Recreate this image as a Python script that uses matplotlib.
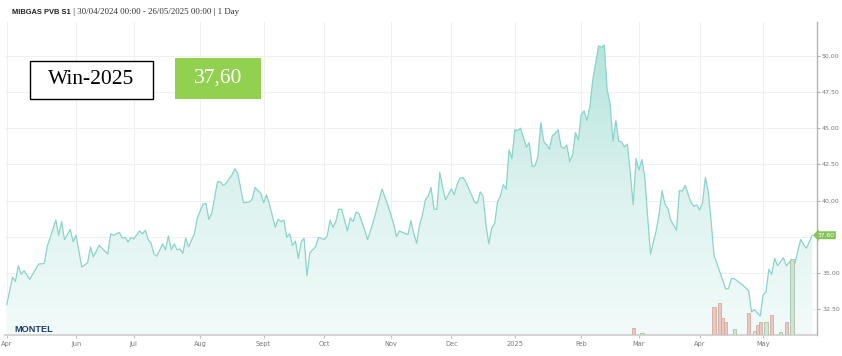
import numpy as np
import matplotlib
matplotlib.use("Agg")
import matplotlib.pyplot as plt
from matplotlib.colors import LinearSegmentedColormap
from matplotlib.transforms import blended_transform_factory

# ---------------- data ----------------
start_date = "2024-04-30"
# trading-day number (business days since 30/04/2024) and settlement price
trading_day = [0, 2, 3, 4, 5, 6, 8, 11, 13, 14, 17, 18, 19, 20, 22, 23, 24, 26, 28, 29,
               30, 32, 35, 36, 37, 39, 40, 41, 42, 43, 44, 46, 47, 48, 49, 50, 51, 52, 54, 55,
               56, 57, 58, 59, 60, 61, 62, 63, 65, 66, 68, 69, 70, 71, 73, 74, 75, 76, 78, 79,
               80, 82, 84, 85, 86, 88, 89, 90, 91, 93, 94, 95, 96, 97, 98, 99, 100, 101, 102, 103,
               104, 105, 107, 108, 110, 111, 112, 113, 114, 115, 116, 118, 119, 120, 121, 122, 124, 125, 127, 129,
               130, 132, 134, 135, 136, 137, 139, 140, 141, 142, 143, 144, 145, 146, 147, 148, 149, 150, 151, 152,
               154, 155, 156, 157, 158, 159, 161, 162, 163, 164, 165, 166, 167, 168, 169, 170, 171, 172, 173, 174,
               175, 176, 177, 178, 180, 181, 182, 183, 184, 185, 186, 187, 188, 189, 190, 191, 192, 193, 194, 195,
               196, 197, 198, 199, 200, 201, 202, 203, 205, 206, 207, 208, 209, 210, 211, 212, 213, 214, 215, 216,
               217, 218, 219, 220, 221, 222, 223, 225, 226, 227, 228, 229, 230, 232, 233, 234, 235, 237, 238, 239,
               240, 241, 242, 243, 244, 245, 246, 249, 250, 251, 252, 254, 255, 257, 258, 259, 261, 262, 263, 264,
               265, 266, 267, 268, 269, 270, 272, 273, 275, 276, 277, 279]
prices = [32.80, 34.70, 34.40, 35.50, 34.90, 35.15, 34.55, 35.60, 35.65, 36.80, 38.65, 37.60, 38.55, 37.30, 38.00, 37.15, 37.60, 35.40, 35.70, 36.80,
          36.10, 36.90, 36.30, 37.70, 37.60, 37.80, 37.40, 37.45, 37.15, 37.45, 37.35, 37.90, 37.70, 37.95, 37.30, 37.05, 36.30, 36.15, 37.00, 36.60,
          37.55, 36.60, 37.00, 36.60, 36.65, 36.35, 37.40, 36.80, 37.70, 38.80, 39.75, 39.80, 38.70, 39.10, 41.30, 41.30, 41.05, 41.20, 41.77, 42.20,
          41.90, 39.85, 39.90, 40.10, 40.90, 40.50, 39.85, 40.40, 39.75, 38.15, 38.70, 38.55, 38.65, 37.45, 37.70, 36.90, 37.20, 36.00, 37.15, 37.40,
          34.80, 36.40, 36.80, 37.45, 37.30, 37.55, 38.65, 38.15, 38.55, 39.40, 39.40, 37.90, 38.80, 38.55, 39.20, 39.10, 37.95, 37.30, 38.55, 40.05,
          40.80, 39.70, 38.40, 37.50, 37.90, 37.80, 37.65, 38.60, 37.70, 37.05, 38.30, 39.00, 40.05, 40.30, 40.90, 39.40, 39.40, 41.95, 40.90, 40.05,
          40.80, 40.40, 41.10, 41.55, 41.60, 41.30, 40.40, 39.90, 39.80, 40.60, 40.30, 38.30, 37.00, 38.10, 38.40, 39.90, 40.30, 41.10, 40.80, 43.50,
          42.90, 44.90, 44.85, 45.00, 43.70, 44.00, 42.35, 42.40, 43.05, 45.40, 44.10, 43.85, 43.55, 44.50, 44.65, 44.90, 43.75, 43.60, 43.85, 42.70,
          43.15, 44.70, 44.20, 45.95, 46.20, 45.55, 46.50, 48.35, 50.70, 50.60, 50.75, 47.65, 46.70, 44.10, 45.55, 44.10, 44.05, 43.70, 43.90, 41.90,
          39.70, 42.90, 42.10, 42.85, 41.65, 38.90, 36.30, 37.95, 39.10, 40.70, 39.75, 39.45, 38.65, 37.95, 40.70, 40.65, 41.05, 39.90, 39.60, 39.70,
          39.35, 39.80, 41.60, 40.60, 38.55, 36.20, 35.65, 33.90, 33.90, 34.60, 34.60, 34.30, 34.15, 33.75, 32.30, 32.45, 32.00, 33.45, 33.70, 35.25,
          34.90, 36.00, 35.50, 35.75, 36.05, 35.50, 35.90, 35.65, 37.30, 36.95, 36.70, 37.60]

# traded volumes (arbitrary units) and side colour key
volume_day = [217, 220, 245, 247, 248, 249, 252, 257, 259, 260, 261, 263, 265, 268, 270, 272]
volumes = [7, 2, 28, 32, 17, 13, 6, 22, 4, 10, 13, 13, 20, 3, 13, 76]
volume_kind = ["s", "b", "s", "s", "s", "s", "b", "s", "b", "s", "s", "b", "s", "b", "s", "b"]

month_starts = ["2024-04-30", "2024-06-01", "2024-07-01", "2024-08-01", "2024-09-01", "2024-10-01",
                "2024-11-01", "2024-12-01", "2025-01-01", "2025-02-01", "2025-03-01", "2025-04-01",
                "2025-05-01"]
month_labels = ["Apr", "Jun", "Jul", "Aug", "Sept", "Oct", "Nov", "Dec", "2025", "Feb", "Mar", "Apr", "May"]
y_ticks = [32.5, 35.0, 37.5, 40.0, 42.5, 45.0, 47.5, 50.0]
last_price = 37.60
title_bold = "MIBGAS PVB S1"
title_rest = " | 30/04/2024 00:00 - 26/05/2025 00:00 | 1 Day"
contract = "Win-2025"
contract_price = "37,60"

# ---------------- figure ----------------
W, H = 842, 356
fig = plt.figure(figsize=(W / 100, H / 100), dpi=100)
fig.patch.set_facecolor("white")

ax_rect = [5.3 / W, 21 / H, 811.2 / W, 313 / H]
ax = fig.add_axes(ax_rect, zorder=1)
ax_vol = fig.add_axes(ax_rect, zorder=2, sharex=ax)
ax_vol.patch.set_alpha(0)

x = np.array(trading_day, dtype=float)
y = np.array(prices)
ymin, ymax = 30.70, 52.35
xmin, xmax = -0.5, 280.5

line_col = "#8ad4ca"
# gradient fill below the line
poly = ax.fill_between(x, y, ymin, color="none", lw=0)
cmap = LinearSegmentedColormap.from_list("g", ["#f2fbfa", "#dcf2ef", "#b3e3dc"])
grad = np.linspace(0, 1, 256).reshape(-1, 1)
im = ax.imshow(grad, cmap=cmap, extent=[xmin, xmax, ymin, 51.0], origin="lower",
               aspect="auto", zorder=1, interpolation="bilinear")
im.set_clip_path(poly.get_paths()[0], ax.transData)
ax.plot(x, y, color=line_col, lw=0.9, zorder=3)

# month ticks at first trading day of each month
tick_pos = np.busday_count(start_date, np.array(month_starts, dtype="datetime64[D]"))
ax.set_xticks(tick_pos)
ax.set_xticklabels(month_labels)
ax.set_yticks(y_ticks)
ax.set_yticklabels(["" if abs(v - 37.5) < 1e-6 else f"{v:.2f}" for v in y_ticks])
ax.yaxis.tick_right()
ax.set_xlim(xmin, xmax)
ax.set_ylim(ymin, ymax)
ax.grid(True, color="#f0f0f0", lw=0.8, zorder=0)
ax.set_axisbelow(True)
for s in ["left", "top"]:
    ax.spines[s].set_visible(False)
ax.spines["right"].set_color("#b5b5b5")
ax.spines["right"].set_linewidth(1.0)
ax.spines["bottom"].set_color("#d5d5d5")
ax.spines["bottom"].set_linewidth(1.5)
ax.tick_params(axis="x", length=2, color="#c0c0c0", labelsize=4.8, labelcolor="#7a7a7a", pad=2.5)
ax.tick_params(axis="y", length=2, color="#b0b0b0", labelsize=4.5, labelcolor="#7a7a7a", pad=2)

# volume bars
colors = {"s": ("#e6c4ba", "#d3a59a"), "b": ("#cfe0d1", "#9fbea2")}
ax_vol.bar(volume_day, volumes, width=1.15,
           color=[colors[k][0] for k in volume_kind],
           edgecolor=[colors[k][1] for k in volume_kind], linewidth=0.6, alpha=0.9)
ax_vol.set_ylim(0, 313)
ax_vol.axis("off")

# last-price tag
trans = blended_transform_factory(ax.transAxes, ax.transData)
ax.text(1.0115, last_price, f"{last_price:.2f}", transform=trans, ha="center", va="center",
        fontsize=4.3, color="white", zorder=10, clip_on=False,
        bbox=dict(boxstyle="larrow,pad=0.25", fc="#86c25a", ec="none"))

# title
t1 = fig.text(12.5 / W, 1 - 12 / H, title_bold, fontsize=5.4, fontweight="bold",
              family="Liberation Sans", color="#222222", va="center", ha="left")
fig.canvas.draw()
bb = t1.get_window_extent()
fig.text(bb.x1 / W, 1 - 12 / H, title_rest, fontsize=6.4, family="Liberation Serif",
         color="#333333", va="center", ha="left")

# contract boxes
fig.patches.append(plt.Rectangle((29.5 / W, 1 - 98.7 / H), 123 / W, 37.7 / H,
                                 transform=fig.transFigure, fc="white", ec="black", lw=1.0))
fig.text(91 / W, 1 - 80 / H, contract, fontsize=15.5, family="Liberation Serif",
         color="black", ha="center", va="center")
fig.patches.append(plt.Rectangle((175 / W, 1 - 99.3 / H), 85.7 / W, 41.6 / H,
                                 transform=fig.transFigure, fc="#92d050", ec="none"))
fig.text(218 / W, 1 - 78.5 / H, contract_price, fontsize=15.5, family="Liberation Serif",
         color="white", ha="center", va="center")

# logo
fig.text(14.5 / W, 1 - 329.5 / H, "MONTEL", fontsize=6.6, fontweight="bold",
         family="Liberation Sans", color="#1d3b6a", ha="left", va="center", zorder=20)

fig.savefig("out.png", dpi=100, facecolor="white")
